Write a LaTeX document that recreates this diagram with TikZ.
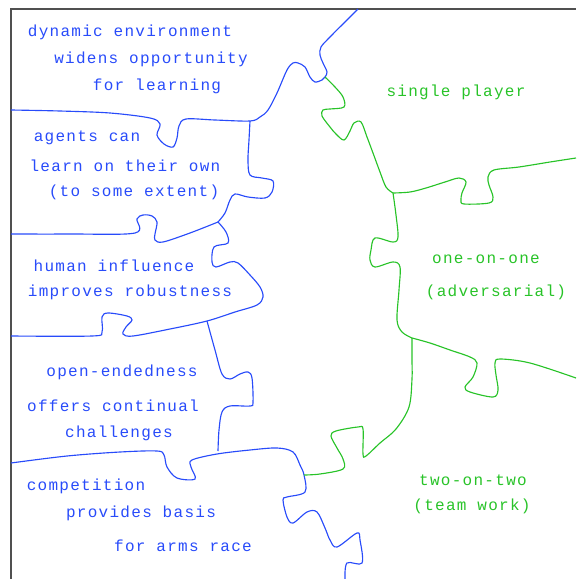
\documentclass[tikz,border=0pt]{standalone}
\usepackage{fontspec}
\newfontfamily\puzzlefont[LetterSpace=8]{Liberation Mono}
\definecolor{pieceblue}{RGB}{40,75,250}
\definecolor{piecegreen}{RGB}{40,195,40}
\tikzset{
  bluetext/.style={text=pieceblue,inner sep=0.75pt,font=\puzzlefont\fontsize{12}{14}\selectfont},
  greentext/.style={text=piecegreen,inner sep=0.75pt,font=\puzzlefont\fontsize{12}{14}\selectfont},
  blueedge/.style={draw=pieceblue,line width=0.85pt},
  greenedge/.style={draw=piecegreen,line width=0.85pt}
}
\begin{document}
\begin{tikzpicture}[x=0.75pt,y=0.75pt,yscale=-1,xscale=1]
	\useasboundingbox (0,0) rectangle (576,579);

	% Frame
	\draw [color={rgb, 255:red, 80; green, 80; blue, 80 }, line width=0.9pt] (11,579) -- (11,9) -- (576,9) ;

	% Text Node
	\node [bluetext] (dyn1) at (130,32) {dynamic environment};
	\node [bluetext] (dyn2) at (151,59) {widens opportunity};
	\node [bluetext] (dyn3) at (157,86) {for learning};
	% Text Node
	\node [bluetext] (agt1) at (87,138) {agents can};
	\node [bluetext] (agt2) at (125,166) {learn on their own};
	\node [bluetext] (agt3) at (134,192) {(to some extent)};
	% Text Node
	\node [bluetext] (hum1) at (114,266) {human influence};
	\node [bluetext] (hum2) at (130,292) {improves robustness};
	% Text Node
	\node [bluetext] (opn1) at (122,372) {open-endedness};
	\node [bluetext] (opn2) at (113,406) {offers continual};
	\node [bluetext] (opn3) at (119,433) {challenges};
	% Text Node
	\node [bluetext] (cmp1) at (86,486) {competition};
	\node [bluetext] (cmp2) at (141,513) {provides basis};
	\node [bluetext] (cmp3) at (183,546) {for arms race};
	% Text Node
	\node [greentext] (sgl1) at (456,92) {single player};
	\node [greentext] (one1) at (486,259) {one-on-one};
	\node [greentext] (one2) at (496,292) {(adversarial)};
	\node [greentext] (two1) at (473,480) {two-on-two};
	\node [greentext] (two2) at (472,506) {(team work)};

	% Junctions
	\coordinate (j1) at (250,121);
	\coordinate (j2) at (325,77);
	\coordinate (j3) at (218,222);
	\coordinate (j4) at (393,193);
	\coordinate (j5) at (412,338);
	\coordinate (j6) at (304,475);

	% Blue Edges
	\draw [blueedge] plot [smooth, tension=0.55] coordinates {(11,110) (60,111) (110,113) (150,118) (160,124) (157,135) (164,144) (173,147) (177,138) (179,126) (186,119) (215,120) (j1) (260,117) (268,110) (277,93) (287,70) (293,63) (298,63) (305,67) (310,77) (315,82) (322,80) (j2) (327,72) (323,63) (320,55) (321,47) (330,37) (350,17) (358,9)} ;
	\draw [blueedge] plot [smooth, tension=0.55] coordinates {(j1) (249,140) (248,160) (250,175) (262,178) (273,181) (272,192) (265,198) (248,197) (235,194) (230,200) (225,213) (j3)} ;
	\draw [blueedge] plot [smooth, tension=0.55] coordinates {(11,234) (70,234) (135,233) (137,219) (143,215) (152,216) (157,222) (155,234) (155,240) (163,242) (190,233) (j3)} ;
	\draw [blueedge] plot [smooth, tension=0.55] coordinates {(j3) (226,232) (228,243) (214,247) (212,262) (216,267) (230,262) (238,263) (250,275) (260,287) (263,297) (257,305) (235,312) (207,321) (170,329) (133,336) (123,334) (126,327) (132,320) (127,316) (108,313) (102,317) (102,332) (92,336) (11,336)} ;
	\draw [blueedge] plot [smooth, tension=0.55] coordinates {(207,321) (215,350) (222,374) (230,379) (240,374) (248,372) (252,378) (253,402) (250,406) (230,406) (222,412) (219,430) (218,451)} ;
	\draw [blueedge] plot [smooth, tension=0.55] coordinates {(11,463) (67,456) (120,452) (157,451) (164,455) (167,467) (177,478) (195,479) (191,467) (192,460) (217,454) (250,450) (277,448) (293,452) (300,465) (j6) (305,492) (287,497) (283,500) (287,517) (293,523) (307,512) (317,512) (325,528) (330,540) (337,547) (357,533) (360,540) (362,563) (347,563) (345,579)} ;

	% Green Edges
	\draw [greenedge] plot [smooth, tension=0.55] coordinates {(j2) (335,87) (343,97) (344,107) (330,109) (323,110) (322,116) (330,127) (336,134) (344,140) (350,131) (354,123) (361,122) (367,137) (373,153) (380,172) (386,187) (j4)} ;
	\draw [greenedge] plot [smooth, tension=0.55] coordinates {(j4) (410,192) (426,188) (445,182) (459,178) (466,182) (462,193) (461,200) (464,204) (489,203) (493,197) (489,185) (488,177) (494,170) (519,167) (550,162) (576,158)} ;
	\draw [greenedge] plot [smooth, tension=0.55] coordinates {(j4) (396,215) (398,237) (393,242) (375,238) (371,250) (370,260) (375,267) (393,262) (400,267) (399,290) (397,320) (402,332) (j5)} ;
	\draw [greenedge] plot [smooth, tension=0.55] coordinates {(j5) (430,343) (450,350) (470,357) (477,363) (473,377) (465,387) (470,392) (493,397) (498,390) (496,375) (495,363) (500,359) (530,363) (576,378)} ;
	\draw [greenedge] plot [smooth, tension=0.55] coordinates {(j5) (412,360) (412,379) (409,407) (396,429) (380,443) (366,456) (363,454) (363,429) (358,427) (336,431) (331,436) (337,448) (343,459) (343,469) (320,474) (j6)} ;

\end{tikzpicture}
\end{document}
